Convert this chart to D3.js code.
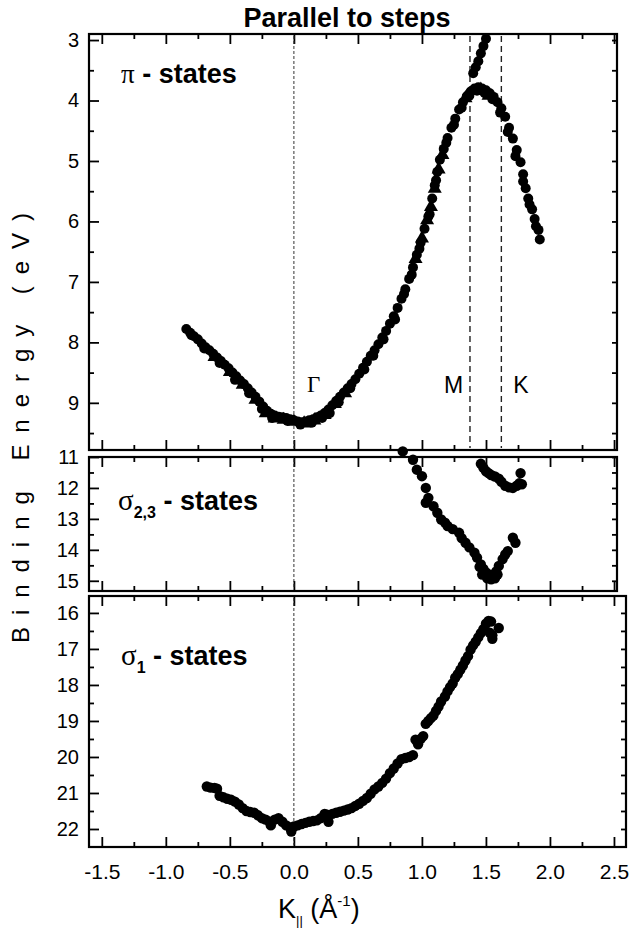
<!DOCTYPE html>
<html>
<head>
<meta charset="utf-8">
<script src="https://cdn.jsdelivr.net/npm/d3@7/dist/d3.min.js"></script>
<style>
    body { margin: 0; background: #fff; }
    text { font-family: Arial, "Liberation Sans", sans-serif; fill: #000; }
</style>
</head>
<body>
<script>
// tick labels
const xMajorTicks = [-1.5, -1.0, -0.5, 0.0, 0.5, 1.0, 1.5, 2.0, 2.5];
const xMinorTicks = [-1.25, -0.75, -0.25, 0.25, 0.75, 1.25, 1.75, 2.25];
const piTicks = [3, 4, 5, 6, 7, 8, 9];
const sigma23Ticks = [11, 12, 13, 14, 15];
const sigma1Ticks = [16, 17, 18, 19, 20, 21, 22];

// symmetry points (K||, 1/Å)
const gammaK = 0.0;
const mK = 1.375;
const kK = 1.62;

// pi band, circles [K||, binding energy]
const piCircles = [
    [-0.84, 7.78], [-0.81, 7.84], [-0.78, 7.90], [-0.75, 7.95], [-0.72, 8.02], [-0.69, 8.08],
    [-0.66, 8.13], [-0.63, 8.19], [-0.60, 8.25], [-0.57, 8.31], [-0.54, 8.37], [-0.51, 8.43],
    [-0.48, 8.50], [-0.45, 8.56], [-0.42, 8.63], [-0.39, 8.69], [-0.36, 8.76], [-0.33, 8.83],
    [-0.30, 8.90], [-0.27, 8.98], [-0.24, 9.06], [-0.21, 9.13], [-0.18, 9.18], [-0.15, 9.21],
    [-0.12, 9.23], [-0.09, 9.24], [-0.06, 9.25], [-0.03, 9.27], [0.00, 9.29], [0.03, 9.31],
    [0.06, 9.32], [0.09, 9.31], [0.12, 9.29], [0.15, 9.27], [0.18, 9.24], [0.21, 9.21],
    [0.24, 9.17], [0.27, 9.11], [0.30, 9.04], [0.33, 8.97], [0.36, 8.90], [0.39, 8.83],
    [0.42, 8.76], [0.45, 8.69], [0.48, 8.61], [0.51, 8.52], [0.54, 8.42], [0.57, 8.32],
    [0.60, 8.22], [0.63, 8.13], [0.66, 8.03], [0.69, 7.92], [0.72, 7.81], [0.75, 7.69],
    [0.78, 7.57], [0.81, 7.43], [0.84, 7.28], [0.87, 7.12], [0.90, 6.95], [0.93, 6.76],
    [0.96, 6.55], [0.99, 6.35], [1.02, 6.12], [1.05, 5.92], [1.08, 5.62], [1.10, 5.40],
    [1.12, 5.18], [1.14, 4.98], [1.17, 4.80], [1.20, 4.62], [1.23, 4.45], [1.26, 4.30],
    [1.29, 4.15], [1.32, 4.03], [1.35, 3.93], [1.38, 3.85], [1.41, 3.80], [1.44, 3.78],
    [1.47, 3.80], [1.50, 3.83], [1.53, 3.88], [1.56, 3.94], [1.59, 4.03], [1.62, 4.13],
    [1.65, 4.27], [1.68, 4.45], [1.71, 4.63], [1.74, 4.82], [1.77, 5.02], [1.79, 5.22],
    [1.81, 5.45], [1.83, 5.62], [1.86, 5.80], [1.88, 5.96], [1.91, 6.14], [1.92, 6.30]
];

// pi band, second scan (circles, slightly scattered)
const piCircles2 = [
    [-0.80, 7.88], [-0.70, 8.10], [-0.58, 8.34], [-0.46, 8.62], [-0.35, 8.84], [-0.25, 9.10],
    [-0.17, 9.25], [-0.05, 9.30], [0.05, 9.36], [0.14, 9.33], [0.22, 9.25], [0.28, 9.17],
    [0.35, 8.99], [0.44, 8.76], [0.55, 8.45], [0.62, 8.22], [0.70, 7.95], [0.79, 7.62],
    [0.86, 7.20], [0.92, 6.88], [0.98, 6.45], [1.06, 5.88], [1.11, 5.32], [1.19, 4.70],
    [1.25, 4.40], [1.31, 4.12], [1.37, 3.92], [1.43, 3.84], [1.49, 3.88], [1.55, 3.98],
    [1.61, 4.20], [1.67, 4.52], [1.73, 4.92], [1.79, 5.34], [1.84, 5.72], [1.89, 6.08]
];

// pi band, triangles
const piTriangles = [
    [-0.62, 8.24], [-0.50, 8.49], [-0.40, 8.70], [-0.30, 8.95], [-0.22, 9.17], [-0.15, 9.26],
    [-0.08, 9.28], [0.00, 9.31], [0.08, 9.34], [0.16, 9.29], [0.24, 9.20], [0.32, 9.02],
    [0.40, 8.84], [0.95, 6.62], [1.00, 6.28], [1.04, 5.98], [1.07, 5.76], [1.10, 5.46],
    [1.13, 5.14], [1.16, 4.90], [1.34, 3.96], [1.46, 3.82], [1.52, 3.92]
];

// pi band, branch above the M point
const piUpper = [
    [1.40, 3.55], [1.42, 3.45], [1.44, 3.35], [1.46, 3.22], [1.48, 3.10], [1.50, 2.98]
];

// sigma 2,3 bands
const sigma23Lower = [
    [0.85, 10.82], [0.93, 11.09], [0.96, 11.41], [1.00, 11.62], [1.03, 12.00], [1.05, 12.32],
    [1.03, 12.48], [1.09, 12.59], [1.12, 12.80], [1.15, 13.02], [1.18, 13.12], [1.20, 13.23],
    [1.24, 13.33], [1.29, 13.45], [1.31, 13.62], [1.34, 13.77], [1.37, 13.92], [1.41, 14.09],
    [1.43, 14.25], [1.45, 14.55], [1.46, 14.47], [1.47, 14.80], [1.48, 14.62], [1.50, 14.73],
    [1.51, 14.92], [1.53, 14.80], [1.54, 14.95], [1.56, 14.84], [1.57, 14.92], [1.58, 14.70],
    [1.59, 14.80], [1.60, 14.52], [1.63, 14.30], [1.65, 14.15], [1.67, 14.04], [1.73, 13.77],
    [1.71, 13.61]
];
const sigma23Upper = [
    [1.46, 11.22], [1.48, 11.35], [1.50, 11.46], [1.52, 11.52], [1.54, 11.58], [1.57, 11.63],
    [1.60, 11.70], [1.62, 11.80], [1.65, 11.93], [1.68, 11.98], [1.71, 12.00], [1.74, 11.93],
    [1.76, 11.85], [1.78, 11.88], [1.77, 11.52]
];

// sigma 1 band
const sigma1 = [
    [-0.68, 20.82], [-0.65, 20.85], [-0.62, 20.86], [-0.60, 20.88], [-0.58, 21.08], [-0.55, 21.12],
    [-0.52, 21.16], [-0.49, 21.19], [-0.46, 21.24], [-0.43, 21.32], [-0.40, 21.42], [-0.37, 21.50],
    [-0.34, 21.53], [-0.31, 21.55], [-0.28, 21.62], [-0.25, 21.70], [-0.22, 21.74], [-0.19, 21.80],
    [-0.18, 21.90], [-0.15, 21.74], [-0.12, 21.70], [-0.09, 21.80], [-0.06, 21.90], [-0.03, 21.96],
    [-0.02, 22.07], [0.00, 21.93], [0.03, 21.90], [0.06, 21.86], [0.09, 21.83], [0.12, 21.80],
    [0.15, 21.78], [0.18, 21.76], [0.21, 21.70], [0.24, 21.58], [0.26, 21.60], [0.27, 21.80],
    [0.30, 21.58], [0.33, 21.55], [0.36, 21.52], [0.39, 21.49], [0.42, 21.46], [0.45, 21.42],
    [0.48, 21.36], [0.51, 21.30], [0.54, 21.22], [0.57, 21.14], [0.60, 21.02], [0.63, 20.90],
    [0.66, 20.82], [0.69, 20.72], [0.72, 20.60], [0.75, 20.45], [0.78, 20.32], [0.81, 20.18],
    [0.84, 20.06], [0.87, 20.03], [0.90, 20.00], [0.93, 19.95], [0.95, 19.52], [0.97, 19.65],
    [0.99, 19.50], [1.01, 19.42], [1.03, 19.08], [1.05, 19.00], [1.07, 18.92], [1.09, 18.85],
    [1.11, 18.72], [1.13, 18.60], [1.15, 18.46], [1.18, 18.32], [1.20, 18.18], [1.22, 18.06],
    [1.24, 17.96], [1.26, 17.80], [1.28, 17.70], [1.30, 17.58], [1.32, 17.46], [1.34, 17.32],
    [1.36, 17.20], [1.38, 17.02], [1.40, 16.90], [1.42, 16.80], [1.44, 16.68], [1.46, 16.56],
    [1.48, 16.45], [1.50, 16.30], [1.52, 16.22], [1.54, 16.24], [1.53, 16.55], [1.55, 16.62],
    [1.55, 16.72], [1.60, 16.42]
];

const width = 629;
const height = 930;
const left = 89;
const fontSans = 'Arial, "Liberation Sans", sans-serif';
const fontSerif = '"Liberation Serif", "Times New Roman", serif';

const svg = d3.select('body')
    .append('svg')
    .attr('width', width)
    .attr('height', height);

// panel layout
const panels = [
    { top: 34, bottom: 450, right: 617, yDomain: [2.9, 9.78], xMax: 2.523, ticks: piTicks },
    { top: 457, bottom: 591, right: 617, yDomain: [11, 15.33], xMax: 2.523, ticks: sigma23Ticks },
    { top: 596, bottom: 847, right: 626, yDomain: [15.53, 22.5], xMax: 2.594, ticks: sigma1Ticks, xLabels: true }
];

panels.forEach(p => {
    p.x = d3.scaleLinear().domain([-1.6, p.xMax]).range([left, p.right]);
    p.y = d3.scaleLinear().domain(p.yDomain).range([p.top, p.bottom]);
    p.yMinor = d3.range(Math.ceil(p.yDomain[0] * 2) / 2, p.yDomain[1], 0.5)
        .filter(v => !p.ticks.includes(v));
});

const fmtX = d => d3.format('.1f')(d).replace('−', '-');

function styleTicks(g) {
    g.select('.domain').remove();
    g.selectAll('line').attr('stroke', '#000').attr('stroke-width', 1.8);
}

panels.forEach(p => {
    const g = svg.append('g');

    // left
    g.append('g')
        .attr('transform', `translate(${left},0)`)
        .call(d3.axisLeft(p.y).tickValues(p.ticks).tickSizeInner(-10).tickSizeOuter(0).tickPadding(10).tickFormat(d3.format('d')))
        .call(styleTicks)
        .call(a => a.selectAll('text').attr('font-size', 20).style('font-family', fontSans));
    g.append('g')
        .attr('transform', `translate(${left},0)`)
        .call(d3.axisLeft(p.y).tickValues(p.yMinor).tickSizeInner(-5).tickSizeOuter(0).tickFormat(''))
        .call(styleTicks);

    // right
    g.append('g')
        .attr('transform', `translate(${p.right},0)`)
        .call(d3.axisRight(p.y).tickValues(p.ticks.concat(p.yMinor)).tickSizeInner(-5).tickSizeOuter(0).tickFormat(''))
        .call(styleTicks);

    // bottom
    const bottomMajor = d3.axisBottom(p.x).tickValues(xMajorTicks).tickSizeInner(-10).tickSizeOuter(0).tickPadding(17)
        .tickFormat(p.xLabels ? fmtX : '');
    g.append('g')
        .attr('transform', `translate(0,${p.bottom})`)
        .call(bottomMajor)
        .call(styleTicks)
        .call(a => a.selectAll('text').attr('font-size', 21).style('font-family', fontSans));
    g.append('g')
        .attr('transform', `translate(0,${p.bottom})`)
        .call(d3.axisBottom(p.x).tickValues(xMinorTicks).tickSizeInner(-5).tickSizeOuter(0).tickFormat(''))
        .call(styleTicks);

    // top
    g.append('g')
        .attr('transform', `translate(0,${p.top})`)
        .call(d3.axisTop(p.x).tickValues(xMajorTicks).tickSizeInner(-10).tickSizeOuter(0).tickFormat(''))
        .call(styleTicks);
    g.append('g')
        .attr('transform', `translate(0,${p.top})`)
        .call(d3.axisTop(p.x).tickValues(xMinorTicks).tickSizeInner(-5).tickSizeOuter(0).tickFormat(''))
        .call(styleTicks);

    // frame
    g.append('rect')
        .attr('x', left)
        .attr('y', p.top)
        .attr('width', p.right - left)
        .attr('height', p.bottom - p.top)
        .attr('fill', 'none')
        .attr('stroke', '#000')
        .attr('stroke-width', 2.2);

    // Gamma line
    g.append('line')
        .attr('x1', p.x(gammaK)).attr('x2', p.x(gammaK))
        .attr('y1', p.top + 2).attr('y2', p.bottom - 2)
        .attr('stroke', '#333')
        .attr('stroke-width', 1)
        .attr('stroke-dasharray', '3,2');
});

// M and K lines in the pi panel
const pi = panels[0];
[mK, kK].forEach(k => {
    svg.append('line')
        .attr('x1', pi.x(k)).attr('x2', pi.x(k))
        .attr('y1', pi.top + 2).attr('y2', pi.bottom - 2)
        .attr('stroke', '#222')
        .attr('stroke-width', 1.4)
        .attr('stroke-dasharray', '6,4');
});

// data
function drawCircles(p, data, r) {
    svg.append('g')
        .selectAll('circle')
        .data(data)
        .enter()
        .append('circle')
        .attr('cx', d => p.x(d[0]))
        .attr('cy', d => p.y(d[1]))
        .attr('r', r)
        .attr('fill', '#000');
}

drawCircles(pi, piCircles, 5);
drawCircles(pi, piCircles2, 5);
drawCircles(pi, piUpper, 5);
svg.append('g')
    .selectAll('path')
    .data(piTriangles)
    .enter()
    .append('path')
    .attr('transform', d => `translate(${pi.x(d[0])},${pi.y(d[1])})`)
    .attr('d', d3.symbol().type(d3.symbolTriangle).size(85))
    .attr('fill', '#000');

drawCircles(panels[1], sigma23Lower, 5.2);
drawCircles(panels[1], sigma23Upper, 5.2);
drawCircles(panels[2], sigma1, 5.2);

// symmetry point labels
svg.append('text')
    .attr('x', pi.x(gammaK) + 13).attr('y', 392)
    .style('font-family', fontSerif)
    .attr('font-size', 23)
    .text('Γ');
svg.append('text')
    .attr('x', pi.x(mK) - 26).attr('y', 393)
    .attr('font-size', 23)
    .text('M');
svg.append('text')
    .attr('x', pi.x(kK) + 12).attr('y', 393)
    .attr('font-size', 23)
    .text('K');

// panel labels
const piLabel = svg.append('text').attr('x', 121).attr('y', 83).attr('font-size', 27);
piLabel.append('tspan').style('font-family', fontSerif).text('π');
piLabel.append('tspan').attr('font-weight', 'bold').text(' - states');

const s23Label = svg.append('text').attr('x', 118).attr('y', 510).attr('font-size', 27);
s23Label.append('tspan').style('font-family', fontSerif).attr('font-size', 29).text('σ');
s23Label.append('tspan').attr('font-weight', 'bold').attr('font-size', 16).attr('dy', 8).text('2,3');
s23Label.append('tspan').attr('font-weight', 'bold').attr('dy', -8).text(' - states');

const s1Label = svg.append('text').attr('x', 121).attr('y', 665).attr('font-size', 27);
s1Label.append('tspan').style('font-family', fontSerif).attr('font-size', 29).text('σ');
s1Label.append('tspan').attr('font-weight', 'bold').attr('font-size', 16).attr('dy', 8).text('1');
s1Label.append('tspan').attr('font-weight', 'bold').attr('dy', -8).text(' - states');

// title
svg.append('text')
    .attr('x', 347).attr('y', 27)
    .attr('text-anchor', 'middle')
    .attr('font-size', 27)
    .attr('font-weight', 'bold')
    .text('Parallel to steps');

// y axis title
svg.append('text')
    .attr('transform', 'translate(29,428) rotate(-90)')
    .attr('text-anchor', 'middle')
    .attr('font-size', 24)
    .attr('textLength', 430)
    .attr('lengthAdjust', 'spacing')
    .text('Binding Energy (eV)');

// x axis title
const xTitle = svg.append('text').attr('x', 278).attr('y', 918).attr('font-size', 27);
xTitle.append('tspan').text('K');
xTitle.append('tspan').attr('font-size', 13).attr('dy', 7).text('||');
xTitle.append('tspan').attr('dy', -7).text(' (Å');
xTitle.append('tspan').attr('font-size', 15).attr('dy', -12).text('-1');
xTitle.append('tspan').attr('dy', 12).text(')');
</script>
</body>
</html>
